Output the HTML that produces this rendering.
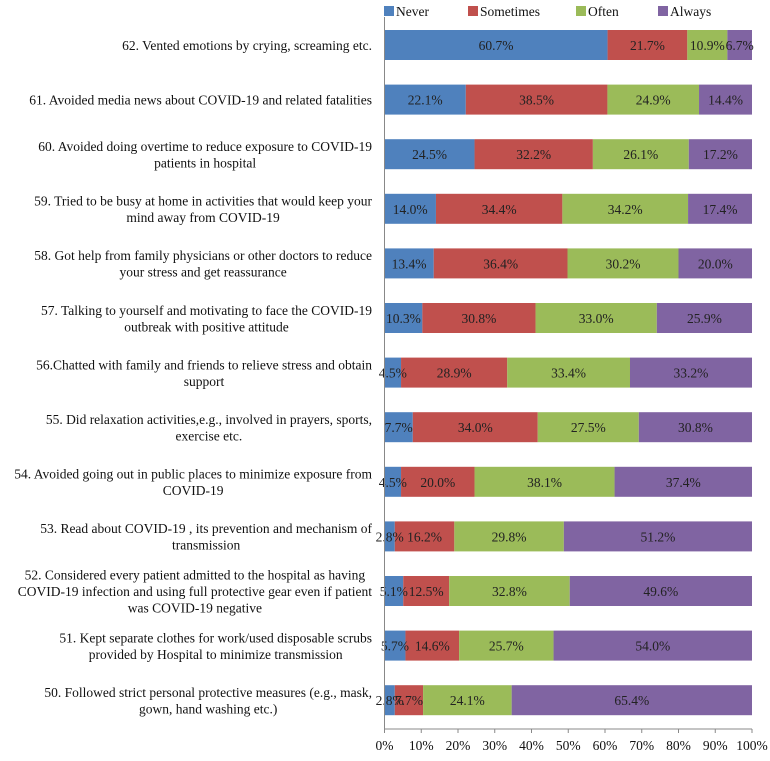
<!DOCTYPE html>
<html><head><meta charset="utf-8"><style>
body{margin:0;background:#fff;width:770px;height:756px;overflow:hidden;font-family:"Liberation Serif",serif}
</style></head><body>
<svg id="chart" width="770" height="756" xmlns="http://www.w3.org/2000/svg" font-family="Liberation Serif, serif" font-size="13.5"></svg>
<script>
const categories=[
["62. Vented emotions by crying, screaming etc."],
["61. Avoided media news about  COVID-19  and related fatalities"],
["60. Avoided doing overtime to reduce exposure to  COVID-19","patients in hospital"],
["59. Tried to be busy at home in activities that would keep your","mind away from COVID-19"],
["58. Got help from family physicians or other doctors to reduce","your stress and get reassurance"],
["57. Talking to yourself and motivating to face the COVID-19","outbreak with positive attitude"],
["56.Chatted with family and friends to relieve stress and obtain","support"],
["55. Did relaxation activities,e.g., involved in prayers, sports,","exercise etc."],
["54. Avoided going out in public places to minimize exposure from","COVID-19"],
["53. Read about  COVID-19 , its prevention and mechanism of","transmission"],
["52. Considered every patient admitted to the hospital as having","COVID-19  infection and using full protective gear even if patient","was  COVID-19  negative"],
["51. Kept separate clothes for work/used disposable scrubs","provided by Hospital to minimize transmission"],
["50. Followed strict personal protective measures (e.g., mask,","gown, hand washing etc.)"]];
const never=[60.7,22.1,24.5,14.0,13.4,10.3,4.5,7.7,4.5,2.8,5.1,5.7,2.8];
const sometimes=[21.7,38.5,32.2,34.4,36.4,30.8,28.9,34.0,20.0,16.2,12.5,14.6,7.7];
const often=[10.9,24.9,26.1,34.2,30.2,33.0,33.4,27.5,38.1,29.8,32.8,25.7,24.1];
const always=[6.7,14.4,17.2,17.4,20.0,25.9,33.2,30.8,37.4,51.2,49.6,54.0,65.4];
const seriesNames=["Never","Sometimes","Often","Always"];
const colors=["#4F81BD","#C0504D","#9BBB59","#8064A2"];
const ticks=[0,10,20,30,40,50,60,70,80,90,100];
const NS="http://www.w3.org/2000/svg",svg=document.getElementById('chart');
const x0=384.5,x1=752,rowTop=45,rowStep=54.6,bh=30;
const xs=v=>x0+(x1-x0)*v/100, yc=i=>rowTop+i*rowStep;
function el(t,a,p){const e=document.createElementNS(NS,t);for(const k in a)e.setAttribute(k,a[k]);(p||svg).appendChild(e);return e;}
const series=[never,sometimes,often,always];
categories.forEach((lines,i)=>{
 const tot=never[i]+sometimes[i]+often[i]+always[i];let acc=0;
 const g=el('g',{});
 
 
 series.forEach((s,j)=>{
  const v=s[i]/tot*100;
  const r=el('rect',{x:xs(acc),y:yc(i)-bh/2,width:xs(acc+v)-xs(acc),height:bh,fill:colors[j]},g);
  
  
  acc+=v;
 });
 acc=0;
 series.forEach((s,j)=>{
  const v=s[i]/tot*100;
  const t=el('text',{x:(xs(acc)+xs(acc+v))/2,y:yc(i)+5,'text-anchor':'middle',fill:'#222','font-size':13.5},g);
  t.textContent=s[i].toFixed(1)+'%';
  
  
  acc+=v;
 });
 const n=lines.length;
 const ts=lines.map((ln,k)=>{
  const t=el('text',{x:0,y:yc(i)+5+(k-(n-1)/2)*16.5,'text-anchor':'middle',fill:'#111'});
  t.textContent=ln;
  
  
  return t;
 });
 const w=Math.max(...ts.map(t=>t.getComputedTextLength()));
 ts.forEach(t=>t.setAttribute('x',372-w/2));
});
const ax=el('line',{x1:x0,y1:17,x2:x0,y2:729,stroke:'#888'});

const bx=el('line',{x1:x0,y1:729,x2:x1,y2:729,stroke:'#888'});

ticks.forEach(v=>{
 el('line',{x1:xs(v),y1:729,x2:xs(v),y2:733,stroke:'#888'});
 const t=el('text',{x:xs(v),y:750,'text-anchor':'middle',fill:'#111'});
 t.textContent=v+'%';
 
 
});
const lx=[384,468,576,658];
seriesNames.forEach((nm,j)=>{
 const g=el('g',{});
 
 
 el('rect',{x:lx[j],y:6,width:10,height:10,fill:colors[j]},g);
 const t=el('text',{x:lx[j]+12,y:16,fill:'#111'},g);t.textContent=nm;
});
</script>
</body></html>
